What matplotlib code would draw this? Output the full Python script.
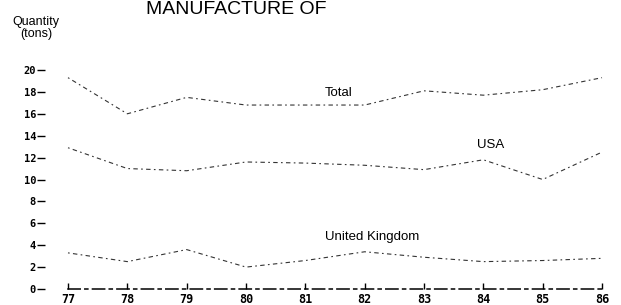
import matplotlib
matplotlib.use("Agg")
import matplotlib.pyplot as plt

years = [77, 78, 79, 80, 81, 82, 83, 84, 85, 86]
total = [19.3, 16.0, 17.5, 16.8, 16.8, 16.8, 18.1, 17.7, 18.2, 19.3]
usa = [12.9, 11.0, 10.8, 11.6, 11.5, 11.3, 10.9, 11.8, 10.0, 12.5]
uk = [3.3, 2.5, 3.6, 2.0, 2.6, 3.4, 2.9, 2.5, 2.6, 2.8]
y_ticks = [0, 2, 4, 6, 8, 10, 12, 14, 16, 18, 20]

plt.rcParams['font.family'] = ['Liberation Sans', 'DejaVu Sans']

fig = plt.figure(figsize=(6.21, 3.05), dpi=100)
ax = fig.add_axes([68 / 621, 16 / 305, 534 / 621, 219 / 305])
ax.set_xlim(77, 86)
ax.set_ylim(0, 20)

dash = (0, (1.5, 3, 4, 3))
for vals in (total, usa, uk):
    ax.plot(years, vals, color='#333333', lw=0.8, linestyle=dash, clip_on=False)

ax.text(81.33, 17.9, "Total", fontsize=9.5, va='center', ha='left')
ax.text(83.9, 13.15, "USA", fontsize=9.5, va='center', ha='left')
ax.text(81.33, 4.75, "United Kingdom", fontsize=9.5, va='center', ha='left')

for s in ('top', 'right'):
    ax.spines[s].set_visible(False)
ax.spines['left'].set_visible(False)
ax.spines['left'].set_position(('outward', 22))
ax.spines['bottom'].set_linestyle((0, (8, 3, 2, 3)))
ax.spines['bottom'].set_linewidth(1.1)

ax.set_yticks(y_ticks)
ax.set_yticklabels([str(v) for v in y_ticks], fontsize=7.5, fontweight='bold',
                   family='DejaVu Sans Mono')
ax.tick_params(axis='y', direction='in', length=5.5, width=1, pad=1)
ax.set_xticks(years)
ax.set_xticklabels([str(v) for v in years], fontsize=8.5, fontweight='bold',
                   family='DejaVu Sans Mono')
ax.tick_params(axis='x', direction='in', length=4.5, width=1, pad=3)

fig.text(36 / 621, 1 - 28 / 305, "Quantity\n(tons)", fontsize=9,
         ha='center', va='center', linespacing=1.0)
fig.text(236 / 621, 1 - 14 / 305, "MANUFACTURE OF", fontsize=14,
         ha='center', va='baseline')

fig.savefig("out.png", dpi=100)
